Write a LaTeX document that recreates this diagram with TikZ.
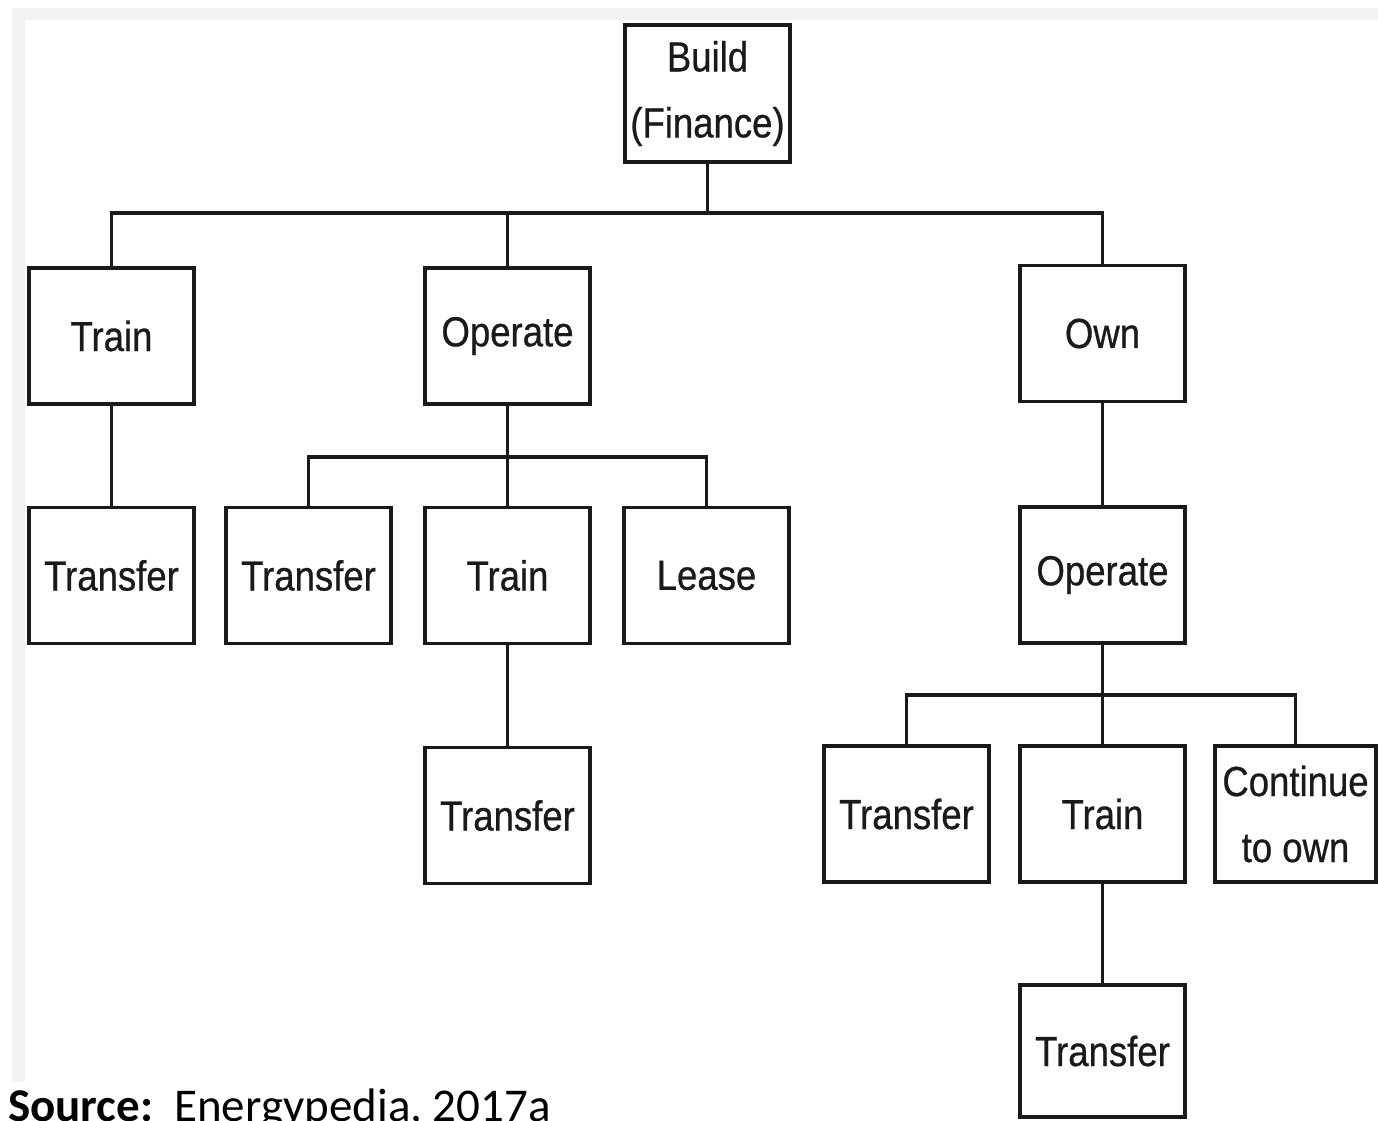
\documentclass[tikz,border=0pt]{standalone}
\usepackage{fontspec}
\newfontfamily\boxfont{Liberation Sans}[FakeStretch=0.87,FakeBold=0.6]
\newfontfamily\srcfont{Carlito}
\definecolor{ink}{HTML}{1A1A1A}
\definecolor{framegray}{HTML}{F2F2F2}
\begin{document}
\begin{tikzpicture}[x=1pt,y=-1pt,
  box/.style={draw=ink, line width=3.5pt, minimum width=165pt, minimum height=136pt,
    inner sep=0pt, align=center, font=\boxfont\fontsize{42}{66}\selectfont, text=ink},
  conn/.style={draw=ink, line width=3.5pt, line join=miter}]
  % page and light frame
  \useasboundingbox (0,0) rectangle (1378,1120);
  \fill[white] (0,0) rectangle (1378,1120);
  \fill[framegray] (12,8) rectangle (1378,20);
  \fill[framegray] (12,8) rectangle (25,1082);

  % level 0
  \node[box, minimum height=137pt] (build) at (707.5,93.5) {Build\\(Finance)};

  % level 1
  \node[box] (trainA)   at (111.5,336)   {Train};
  \node[box] (operateA) at (507.5,336)   {Operate};
  \node[box] (own)      at (1102.5,333.5) {Own};

  % level 2
  \node[box] (transferA) at (111.5,575.5) {Transfer};
  \node[box] (transferB) at (308.5,575.5) {Transfer};
  \node[box] (trainB)    at (507.5,575.5) {Train};
  \node[box] (lease)     at (706.5,575.5) {Lease};
  \node[box] (operateB)  at (1102.5,575)  {Operate};

  % level 3
  \node[box] (transferC) at (507.5,815.5) {Transfer};
  \node[box] (transferD) at (906.5,814)   {Transfer};
  \node[box] (trainC)    at (1102.5,814)  {Train};
  \node[box, minimum width=161pt] (cont) at (1295.5,814) {Continue\\to own};

  % level 4
  \node[box, minimum height=132pt] (transferE) at (1102.5,1051) {Transfer};

  % bus junctions
  \coordinate (busTop) at (707.5,213);
  \coordinate (busOp)  at (507.5,457);
  \coordinate (busOwn) at (1102.5,695);

  % connectors
  \draw[conn] (build.south) -- (busTop);
  \draw[conn] (trainA.north) |- (busTop) -| (own.north);
  \draw[conn] (operateA.north) -- (operateA.north |- busTop);

  \draw[conn] (trainA.south) -- (transferA.north);

  \draw[conn] (operateA.south) -- (busOp);
  \draw[conn] (transferB.north) |- (busOp) -| (lease.north);
  \draw[conn] (busOp) -- (trainB.north);

  \draw[conn] (trainB.south) -- (transferC.north);

  \draw[conn] (own.south) -- (operateB.north);

  \draw[conn] (operateB.south) -- (busOwn);
  \draw[conn] (transferD.north) |- (busOwn) -| (cont.north);
  \draw[conn] (busOwn) -- (trainC.north);

  \draw[conn] (trainC.south) -- (transferE.north);

  % source line
  \node[anchor=base west, inner sep=0pt, font=\srcfont\fontsize{47}{56}\selectfont] (src) at (8,1121)
    {\textbf{Source:}\hspace{0.45em}Energypedia, 2017a};
\end{tikzpicture}
\end{document}
